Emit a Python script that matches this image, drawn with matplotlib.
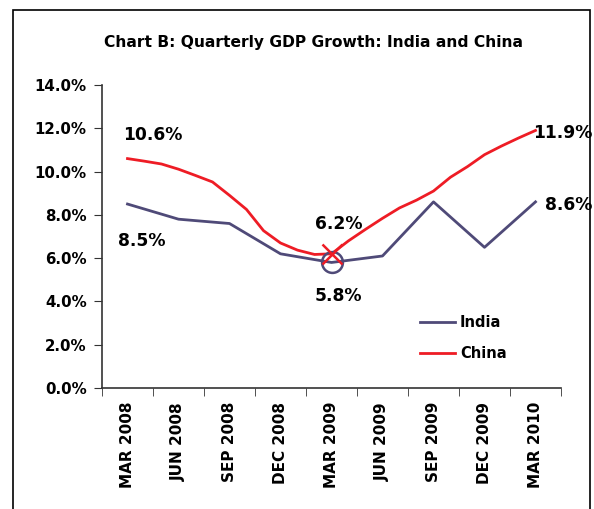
import numpy as np
import matplotlib
matplotlib.use("Agg")
import matplotlib.pyplot as plt
from matplotlib.patches import Rectangle
from matplotlib.ticker import FuncFormatter, MultipleLocator

plt.rcParams['font.family'] = ['DejaVu Sans']
plt.rcParams['font.weight'] = 'bold'

quarters = ["MAR 2008", "JUN 2008", "SEP 2008", "DEC 2008", "MAR 2009",
            "JUN 2009", "SEP 2009", "DEC 2009", "MAR 2010"]
india = [8.5, 7.8, 7.6, 6.2, 5.8, 6.1, 8.6, 6.5, 8.6]

# China is read off the picture roughly once a month (3 points per quarter)
china = [10.6, 10.48, 10.35, 10.11, 9.82, 9.52, 8.9, 8.25, 7.27, 6.7, 6.37, 6.17,
         6.2, 6.8, 7.33, 7.84, 8.32, 8.68, 9.1, 9.74, 10.23, 10.78, 11.18, 11.55, 11.9]

india_color = "#4F4A78"
china_color = "#EE1C25"

fig = plt.figure(figsize=(5.94, 5.09), dpi=100)
ax = fig.add_axes([102 / 594, 1 - 388 / 509, 459 / 594, 303 / 509])

x_india = np.arange(len(india))
x_china = np.arange(len(china)) / 3.0

ax.plot(x_india, india, color=india_color, lw=2, label="India", clip_on=False)
ax.plot(x_china, china, color=china_color, lw=2, label="China", clip_on=False)

# highlighted trough markers at MAR 2009
ax.plot(4, india[4], marker='o', ms=15, mfc='none', mec=india_color, mew=1.8, clip_on=False)
ax.plot(4, china[12], marker='x', ms=15, mec=china_color, mew=1.8, clip_on=False)

ax.set_xlim(-0.5, 8.5)
ax.set_ylim(0, 14)

ax.set_xticks(x_india)
ax.set_xticklabels(quarters, rotation=90, fontsize=11, fontweight='bold')
ax.set_xticks(np.arange(-0.5, 9, 1), minor=True)
ax.tick_params(axis='x', which='major', length=0, pad=10)
ax.tick_params(axis='x', which='minor', length=6, direction='out', color='#333333')

ax.yaxis.set_major_locator(MultipleLocator(2))
ax.yaxis.set_major_formatter(FuncFormatter(lambda v, p: f"{v:.1f}%"))
ax.tick_params(axis='y', length=6, direction='out', color='#333333', labelsize=10.8, pad=5)
for lab in ax.get_yticklabels():
    lab.set_fontweight('bold')

for side in ['top', 'right']:
    ax.spines[side].set_visible(False)
for side in ['left', 'bottom']:
    ax.spines[side].set_color('#333333')
    ax.spines[side].set_linewidth(1.2)

# value labels
lab_kw = dict(fontsize=12.3, fontweight='bold', va='center', transform=fig.transFigure)
fig.text(153 / 594, 1 - 135 / 509, "10.6%", ha='center', **lab_kw)
fig.text(142 / 594, 1 - 241 / 509, "8.5%", ha='center', **lab_kw)
fig.text(339 / 594, 1 - 224 / 509, "6.2%", ha='center', **lab_kw)
fig.text(338 / 594, 1 - 296 / 509, "5.8%", ha='center', **lab_kw)
fig.text(592 / 594, 1 - 133 / 509, "11.9%", ha='right', **lab_kw)
fig.text(592 / 594, 1 - 205 / 509, "8.6%", ha='right', **lab_kw)

ax.legend(loc='center left', bbox_to_anchor=(420 / 594, 1 - 338 / 509), bbox_transform=fig.transFigure,
          frameon=False, handlelength=2.4, handletextpad=0.35, labelspacing=1.05,
          borderpad=0, borderaxespad=0, prop={'weight': 'bold', 'size': 10.5})

fig.text(314 / 594, 1 - 43 / 509, "Chart B: Quarterly GDP Growth: India and China",
         fontsize=11.2, fontweight='bold', ha='center', va='center')

# chart border
fig.patches.append(Rectangle((13 / 594, -0.05), 577 / 594, 1.05 - 10 / 509, transform=fig.transFigure,
                             fill=False, edgecolor='black', lw=1.2))

fig.savefig("out.png", dpi=100)
